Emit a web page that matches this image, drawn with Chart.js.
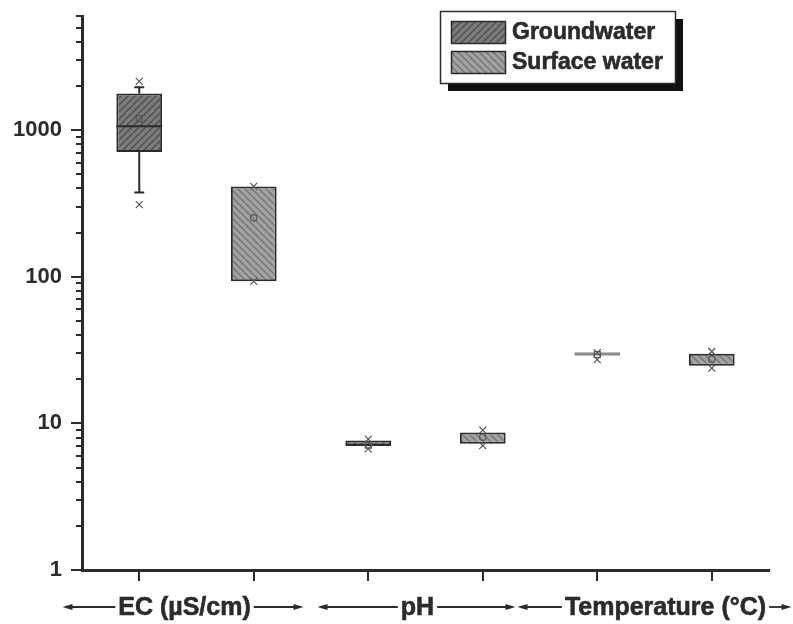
<!DOCTYPE html>
<html>
<head>
<meta charset="utf-8">
<script src="https://cdn.jsdelivr.net/npm/chart.js@4.4.1/dist/chart.umd.min.js"></script>
<style>
  html, body { margin: 0; padding: 0; background: #fff; }
  canvas { display: block; }
</style>
</head>
<body>
<canvas id="chart" width="793" height="624"></canvas>
<script>
// parameter groups on the x axis
const categories = ['EC (µS/cm)', 'pH', 'Temperature (°C)'];

// groundwater box statistics (per parameter)
const gwQ1 = [710, 7.02, 28.9];
const gwQ3 = [1775, 7.63, 30.6];
const gwMedian = [1062, null, null];
const gwMean = [1198, 7.1, 29.5];
const gwWhiskerLow = [376, null, null];
const gwWhiskerHigh = [1960, null, null];
const gwMin = [310, 6.7, 27.2];
const gwMax = [2150, 7.8, 30.4];

// surface water box statistics
const swQ1 = [93, 7.25, 24.7];
const swQ3 = [413, 8.65, 29.8];
const swMedian = [null, null, null];
const swMean = [252, 8.05, 27.4];
const swWhiskerLow = [null, null, null];
const swWhiskerHigh = [null, null, null];
const swMin = [93, 7.05, 23.8];
const swMax = [413, 9.0, 30.9];

// y axis ticks
const yMajorTicks = [1, 10, 100, 1000];
const yMinorTicks = [2, 3, 4, 5, 6, 7, 8, 9, 20, 30, 40, 50, 60, 70, 80, 90,
  200, 300, 400, 500, 600, 700, 800, 900, 2000, 3000, 4000, 5000, 6000];

const INK = '#2b2b2b';
const FONT = '"Liberation Sans", Arial, sans-serif';

function hatch(bg, fg, dir) {
  const s = 7;
  const c = document.createElement('canvas');
  c.width = s; c.height = s;
  const g = c.getContext('2d');
  g.fillStyle = bg;
  g.fillRect(0, 0, s, s);
  g.strokeStyle = fg;
  g.lineWidth = 1.3;
  g.beginPath();
  for (const o of [-s, 0, s]) {
    if (dir === '/') { g.moveTo(o, s); g.lineTo(o + s, 0); }
    else { g.moveTo(o, 0); g.lineTo(o + s, s); }
  }
  g.stroke();
  return g.createPattern(c, 'repeat');
}

const ctx = document.getElementById('chart').getContext('2d');
const gwFill = hatch('#7b7b7b', '#4c4c4c', '/');
const swFill = hatch('#a2a2a2', '#727272', '\\');

const stats = [
  { median: gwMedian, mean: gwMean, wLo: gwWhiskerLow, wHi: gwWhiskerHigh, min: gwMin, max: gwMax, meanStyle: 'rect' },
  { median: swMedian, mean: swMean, wLo: swWhiskerLow, wHi: swWhiskerHigh, min: swMin, max: swMax, meanStyle: 'circle' },
];

// very thin boxes show up as a plain grey bar in the original
const boxBorder = (c) => {
  const v = c.raw;
  return v && v[1] / v[0] < 1.07 ? '#8c8c8c' : INK;
};

function drawX(g, x, y, r) {
  g.beginPath();
  g.moveTo(x - r, y - r); g.lineTo(x + r, y + r);
  g.moveTo(x + r, y - r); g.lineTo(x - r, y + r);
  g.stroke();
}

function arrow(g, x1, x2, y) {
  // line from x1 to x2 with a head at x2
  const dir = Math.sign(x2 - x1);
  g.beginPath();
  g.moveTo(x1, y); g.lineTo(x2 - dir * 6, y);
  g.stroke();
  g.beginPath();
  g.moveTo(x2, y);
  g.lineTo(x2 - dir * 10, y - 3);
  g.lineTo(x2 - dir * 10, y + 3);
  g.closePath();
  g.fill();
}

// heavier text, the original uses a very bold face
function boldText(g, txt, x, y) {
  g.fillText(txt, x, y);
  g.lineWidth = 0.6;
  g.strokeStyle = g.fillStyle;
  g.strokeText(txt, x, y);
}

const boxPlugin = {
  id: 'boxExtras',
  afterDatasetsDraw(chart) {
    const g = chart.ctx;
    const y = chart.scales.y;
    g.save();
    chart.data.datasets.forEach((ds, di) => {
      const st = stats[di];
      chart.getDatasetMeta(di).data.forEach((bar, i) => {
        const x = bar.x;
        const half = bar.width / 2;
        const q1 = ds.data[i][0], q3 = ds.data[i][1];
        g.strokeStyle = INK;
        g.lineWidth = 2;
        // whiskers
        if (st.wHi[i] != null) {
          const yy = y.getPixelForValue(st.wHi[i]);
          g.beginPath();
          g.moveTo(x, y.getPixelForValue(q3)); g.lineTo(x, yy);
          g.moveTo(x - 5, yy); g.lineTo(x + 5, yy);
          g.stroke();
        }
        if (st.wLo[i] != null) {
          const yy = y.getPixelForValue(st.wLo[i]);
          g.beginPath();
          g.moveTo(x, y.getPixelForValue(q1)); g.lineTo(x, yy);
          g.moveTo(x - 5, yy); g.lineTo(x + 5, yy);
          g.stroke();
        }
        // median
        if (st.median[i] != null) {
          const yy = y.getPixelForValue(st.median[i]);
          g.beginPath();
          g.moveTo(x - half, yy); g.lineTo(x + half, yy);
          g.stroke();
        }
        // mean
        g.strokeStyle = '#555';
        g.lineWidth = 1.2;
        if (st.mean[i] != null) {
          const yy = y.getPixelForValue(st.mean[i]);
          g.beginPath();
          if (st.meanStyle === 'rect') g.rect(x - 3, yy - 3, 6, 6);
          else g.arc(x, yy, 3.2, 0, Math.PI * 2);
          g.stroke();
        }
        // min / max crosses
        drawX(g, x, y.getPixelForValue(st.max[i]), 3.5);
        drawX(g, x, y.getPixelForValue(st.min[i]), 3.5);
      });
    });
    g.restore();
  },
  afterDraw(chart) {
    const g = chart.ctx;
    const { x: xs, y: ys } = chart.scales;
    const area = chart.chartArea;
    g.save();
    g.strokeStyle = INK;
    g.fillStyle = INK;
    g.lineWidth = 2;

    // y tick marks, major longer than minor
    ys.ticks.forEach((t) => {
      const yy = Math.round(ys.getPixelForValue(t.value));
      const len = yMajorTicks.includes(t.value) ? 11 : 6;
      g.beginPath();
      g.moveTo(area.left - len, yy); g.lineTo(area.left, yy);
      g.stroke();
    });

    // x tick marks under each box
    chart.data.datasets.forEach((ds, di) => {
      chart.getDatasetMeta(di).data.forEach((bar) => {
        const xx = Math.round(bar.x);
        g.beginPath();
        g.moveTo(xx, area.bottom); g.lineTo(xx, area.bottom + 11);
        g.stroke();
      });
    });

    // group labels with arrows
    const groupLayout = [
      { dx: -12, from: -134, to: 107 },
      { dx: -8, from: -108, to: 90 },
      { dx: 11, from: -137, to: 137 },
    ];
    g.font = 'bold 25px ' + FONT;
    g.textAlign = 'center';
    g.textBaseline = 'middle';
    const ly = 607;
    categories.forEach((lab, i) => {
      const cx = xs.getPixelForValue(i);
      const L = groupLayout[i];
      const tx = cx + L.dx;
      const w = g.measureText(lab).width;
      g.fillStyle = INK;
      boldText(g, lab, tx, ly + 1);
      g.lineWidth = 1.8;
      g.strokeStyle = INK;
      arrow(g, tx - w / 2 - 3, cx + L.from, ly);
      arrow(g, tx + w / 2 + 3, cx + L.to, ly);
    });

    // legend with drop shadow
    const lx = 440, lyTop = 11, lw = 235, lh = 72;
    g.fillStyle = '#111';
    g.fillRect(lx + 8, lyTop + 8, lw, lh);
    g.fillStyle = '#fff';
    g.fillRect(lx, lyTop, lw, lh);
    g.strokeStyle = INK;
    g.lineWidth = 1.5;
    g.strokeRect(lx + 0.5, lyTop + 0.5, lw, lh);
    g.font = 'bold 23px ' + FONT;
    g.textAlign = 'left';
    chart.data.datasets.forEach((ds, di) => {
      const top = lyTop + 10 + di * 30;
      g.fillStyle = ds.backgroundColor;
      g.fillRect(451, top, 54, 22);
      g.strokeStyle = INK;
      g.lineWidth = 1.5;
      g.strokeRect(451.5, top + 0.5, 54, 22);
      g.fillStyle = INK;
      boldText(g, ds.label, 512, top + 12);
    });
    g.restore();
  },
};

new Chart(ctx, {
  type: 'bar',
  data: {
    labels: categories,
    datasets: [
      {
        label: 'Groundwater',
        data: gwQ1.map((v, i) => [v, gwQ3[i]]),
        backgroundColor: gwFill,
        borderColor: boxBorder,
        borderWidth: 2,
        borderSkipped: false,
      },
      {
        label: 'Surface water',
        data: swQ1.map((v, i) => [v, swQ3[i]]),
        backgroundColor: swFill,
        borderColor: boxBorder,
        borderWidth: 2,
        borderSkipped: false,
      },
    ],
  },
  options: {
    responsive: false,
    animation: false,
    devicePixelRatio: 1,
    categoryPercentage: 1,
    barPercentage: 0.4,
    layout: { padding: { top: 16, right: 24, left: 0, bottom: 0 } },
    plugins: { legend: { display: false }, tooltip: { enabled: false } },
    scales: {
      x: {
        type: 'category',
        offset: true,
        grid: { display: false },
        ticks: { display: false },
        border: { display: true, color: INK, width: 3 },
        afterFit: (s) => { s.height = 54; s.paddingLeft = 0; s.paddingRight = 0; },
      },
      y: {
        type: 'logarithmic',
        min: 1,
        max: 6000,
        grid: { display: false },
        border: { display: true, color: INK, width: 3 },
        afterBuildTicks: (s) => {
          s.ticks = [...yMajorTicks, ...yMinorTicks].sort((a, b) => a - b).map((v) => ({ value: v }));
        },
        ticks: {
          autoSkip: false,
          padding: 12,
          color: INK,
          font: { family: FONT, size: 22, weight: 'bold' },
          callback: (v) => (yMajorTicks.includes(v) ? String(v) : ''),
        },
        afterFit: (s) => { s.width = 82; s.paddingTop = 0; s.paddingBottom = 0; },
      },
    },
  },
  plugins: [boxPlugin],
});
</script>
</body>
</html>
